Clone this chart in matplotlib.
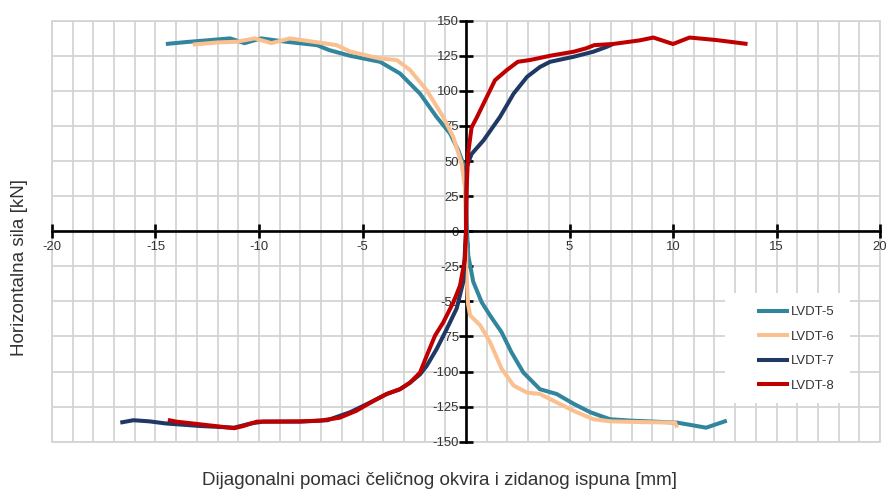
import matplotlib
matplotlib.use("Agg")
import matplotlib.pyplot as plt
from matplotlib import font_manager
from matplotlib.patches import Rectangle
from matplotlib.ticker import MultipleLocator

# LVDT readings: diagonal displacement [mm] vs horizontal force [kN]
lvdt5_x = [-14.5, -13.5, -12.5, -11.4, -10.7, -9.9, -8.7, -7.2, -6.6, -5.6, -4.15, -3.19, -2.22,
           -1.42, -0.77, -0.37, -0.13, -0.03, 0.05, 0.11, 0.35, 0.76, 1.16, 1.72, 2.2, 2.77,
           3.57, 4.38, 5.2, 6.0, 6.96, 8.0, 10.2, 11.6, 12.6]
lvdt5_y = [133.4, 134.8, 136, 137.4, 134, 137.4, 135, 132.6, 129, 125, 120.7, 112.4, 98,
           81.4, 69.6, 57.6, 48, 30, 0, -17.4, -36, -50.7, -60, -72, -86.4, -100.7,
           -112.6, -116, -123, -129, -134, -135, -136.4, -140, -135]

lvdt6_x = [-13.2, -12, -11.1, -10.2, -9.4, -8.5, -7.05, -6.25, -5.6, -4.15, -3.35, -2.7, -1.9,
           -1.1, -0.61, -0.21, -0.05, 0.0, 0.02, 0.1, 0.2, 0.68, 1.16, 1.72, 2.3, 2.95, 3.57,
           4.38, 5.2, 6.15, 7.0, 8.4, 10.1, 10.2]
lvdt6_y = [133, 134.5, 135, 137.4, 134, 137.4, 134.3, 132.6, 128, 123, 122, 114.8, 100.5,
           81.4, 67, 48, 31, 0, -30, -52, -60, -67, -79, -98, -110, -115, -116,
           -122, -128, -134, -135.5, -136, -136.4, -140]

lvdt7_x = [-16.7, -16.07, -15.3, -14.5, -12.85, -11.2, -10.4, -9.8, -8.0, -6.7, -5.6, -4.48,
           -3.83, -3.19, -2.7, -2.22, -1.9, -1.42, -0.93, -0.45, -0.13, 0.0, 0.03, 0.27,
           0.85, 1.64, 2.3, 2.95, 3.57, 4.06, 5.2, 6.15, 6.8, 7.1]
lvdt7_y = [-136.4, -134.7, -135.5, -137, -138.8, -140, -137, -135.7, -135.7, -134.7, -129, -121,
           -116, -112.6, -107.9, -102, -96, -84, -69.7, -55, -36, 0, 45.7, 55,
           64.8, 81.4, 98, 110, 117, 120.7, 124.3, 127.9, 131.4, 133.4]

lvdt8_x = [-14.4, -14.0, -12.85, -11.2, -10.75, -10.1, -8.0, -7.05, -6.1, -5.3, -4.48, -3.83,
           -3.19, -2.7, -2.22, -1.9, -1.5, -1.1, -0.61, -0.29, -0.05, 0.0, 0.03, 0.1, 0.27,
           0.52, 0.85, 1.4, 1.97, 2.5, 3.1, 4.06, 5.2, 5.8, 6.2, 7.1, 8.4, 9.05, 10.0, 10.8,
           12.1, 13.6]
lvdt8_y = [-134.5, -135.7, -137.6, -140.4, -138.8, -135.7, -135.5, -135, -132.9, -128, -121, -116,
           -112.6, -107.9, -100.7, -88.8, -74.5, -65, -50.7, -38.8, -19.7, 0, 30, 55, 74,
           81, 91, 107.6, 114.8, 120.7, 122, 125, 127.9, 130.3, 132.6, 133.4, 136, 138, 133.4, 138,
           136.2, 133.4]

labels = ["LVDT-5", "LVDT-6", "LVDT-7", "LVDT-8"]
colors = ["#31859c", "#fac090", "#1f3864", "#c00000"]

xticks = [-20, -15, -10, -5, 0, 5, 10, 15, 20]
yticks = [-150, -125, -100, -75, -50, -25, 0, 25, 50, 75, 100, 125, 150]

# pick a narrow font if we have one, otherwise shrink the regular one
names = {f.name for f in font_manager.fontManager.ttflist}
if "Liberation Sans Narrow" in names:
    fam, k = "Liberation Sans Narrow", 1.0
else:
    fam, k = "Liberation Sans", 0.82
plt.rcParams["font.family"] = [fam, "DejaVu Sans"]
plt.rcParams["axes.unicode_minus"] = False

text_col = "#333333"
grid_col = "#d4d4d4"

fig = plt.figure(figsize=(8.9, 4.94), dpi=100)
W, H = 890, 494
ax = fig.add_axes([52 / W, (H - 441.7) / H, 828 / W, 421 / H])

series = [(lvdt5_x, lvdt5_y), (lvdt6_x, lvdt6_y), (lvdt7_x, lvdt7_y), (lvdt8_x, lvdt8_y)]
for (xs, ys), lab, c in zip(series, labels, colors):
    ax.plot(xs, ys, color=c, lw=2.9, label=lab, solid_joinstyle="round",
            solid_capstyle="butt", zorder=3)

ax.set_xlim(-20, 20)
ax.set_ylim(-150, 150)
ax.set_xticks(xticks)
ax.set_yticks(yticks)
ax.xaxis.set_minor_locator(MultipleLocator(1))

ax.grid(True, which="both", axis="x", color=grid_col, lw=1.3, zorder=0)
ax.grid(True, which="major", axis="y", color=grid_col, lw=1.3, zorder=0)
ax.set_axisbelow(True)
ax.add_patch(Rectangle((0, 0), 1, 1, transform=ax.transAxes, fill=False, ec=grid_col,
                       lw=1.3, clip_on=False, zorder=0.5))

for s in ["top", "right"]:
    ax.spines[s].set_visible(False)
for s in ["left", "bottom"]:
    ax.spines[s].set_position("zero")
    ax.spines[s].set_linewidth(1.9)
    ax.spines[s].set_color("black")
    ax.spines[s].set_zorder(2.5)

tick_fs = 11.5 * k
ax.tick_params(axis="both", which="major", direction="inout", length=10, width=1.9,
               color="black", labelsize=tick_fs, labelcolor=text_col)
ax.tick_params(axis="x", which="minor", length=0)
ax.tick_params(axis="x", pad=2)
ax.tick_params(axis="y", pad=0)

# white box behind the legend
ax.add_patch(Rectangle((0.8128, 0.0919), 0.151, 0.2613, transform=ax.transAxes,
                       fc="white", ec="none", zorder=1))
leg = ax.legend(loc="upper left", bbox_to_anchor=(0.843, 0.338), frameon=False,
                borderpad=0, handlelength=2.5, handletextpad=0.1, labelspacing=0.95,
                prop={"size": 11.5 * k})
for t in leg.get_texts():
    t.set_color(text_col)
leg.set_zorder(4)

fig.text(20 / W, (H - 267) / H, "Horizontalna sila [kN]", rotation=90, ha="center",
         va="center", fontsize=16.5 * k, color=text_col)
fig.text(440 / W, (H - 480) / H, "Dijagonalni pomaci čeličnog okvira i zidanog ispuna [mm]",
         ha="center", va="center", fontsize=16.5 * k, color=text_col)

fig.savefig("out.png", dpi=100)
